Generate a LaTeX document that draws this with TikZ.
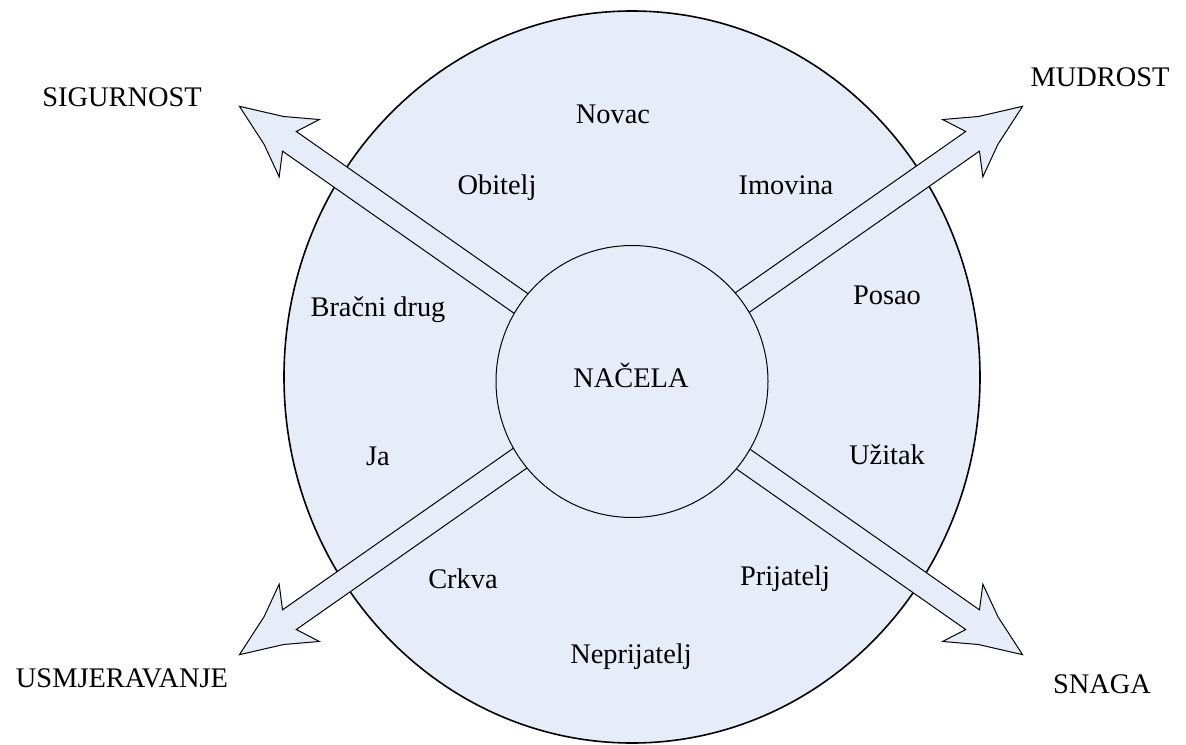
\documentclass[tikz,border=0pt]{standalone}
\usepackage{fontspec}
\setmainfont{Liberation Serif}
\definecolor{krugplava}{RGB}{231,237,248}
\tikzset{
  lbl/.style={inner sep=0pt, font=\fontsize{14.2}{17}\selectfont, text height=0.662em, text depth=0pt},
  strelica/.style={draw=black, fill=krugplava, line width=0.5pt, line join=miter},
}
\begin{document}
\begin{tikzpicture}[x=0.5pt,y=0.5pt]
 \useasboundingbox (-631,-363.5) rectangle (555,380.5);
 \begin{scope}
        % vanjski krug
        \draw[fill=krugplava, line width=0.8pt] (1,3.5) ellipse [x radius=174pt, y radius=183pt];
        % strelice
        \foreach \kut in {35,145,215,325} {
          \draw[strelica, rotate=\kut] (120,12) -- (417,12) -- (405,35) -- (436,17) -- (478,0) -- (436,-17) -- (405,-35) -- (417,-12) -- (120,-12) -- cycle;
        }
        \node[circle, draw=black, fill=krugplava, minimum size=136pt, inner sep=0pt, line width=0.5pt] (nacela-krug) at (1,-1) {};
        \node[lbl] (nacela) at (0,-0.5) {NAČELA};
        % krajevi strelica
        \node[lbl] (sigurnost) at (-509,280.5) {SIGURNOST};
        \node[lbl] (mudrost) at (469,300.5) {MUDROST};
        \node[lbl] (usmjeravanje) at (-509,-300.5) {USMJERAVANJE};
        \node[lbl] (snaga) at (471,-306.5) {SNAGA};
        % unutar kruga
        \node[lbl] (novac) at (-18,263.5) {Novac};
        \node[lbl] (obitelj) at (-134,192.5) {Obitelj};
        \node[lbl] (imovina) at (155,193) {Imovina};
        \node[lbl] (bracni) at (-253,70.5) {Bračni drug};
        \node[lbl] (posao) at (256,83) {Posao};
        \node[lbl] (ja) at (-253,-78.5) {Ja};
        \node[lbl] (uzitak) at (256,-77.5) {Užitak};
        \node[lbl] (crkva) at (-168,-201.5) {Crkva};
        \node[lbl] (prijatelj) at (154,-198.5) {Prijatelj};
        \node[lbl] (neprijatelj) at (0,-276.5) {Neprijatelj};
 \end{scope}
\end{tikzpicture}
\end{document}
